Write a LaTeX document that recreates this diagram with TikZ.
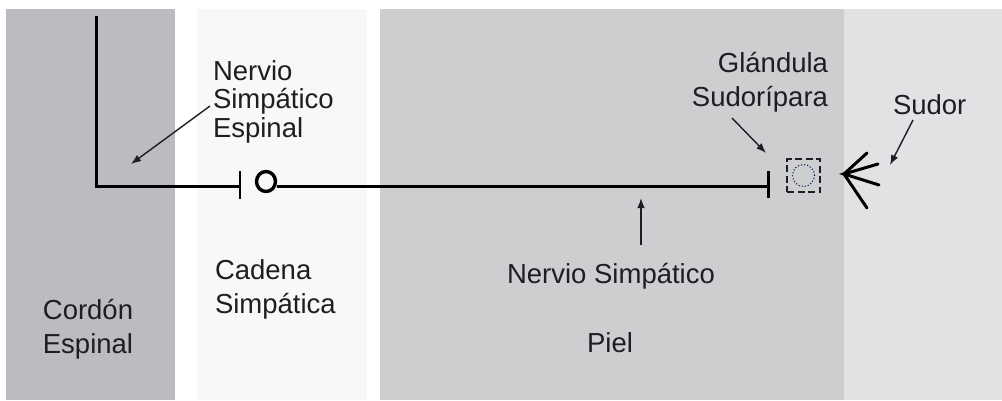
\documentclass[tikz,border=0pt]{standalone}
\usepackage{fontspec}
\setmainfont{Liberation Sans}
\usetikzlibrary{arrows.meta,shapes.geometric}
\definecolor{bandA}{HTML}{BBBCC0}
\definecolor{bandB}{HTML}{F8F8F8}
\definecolor{bandC}{HTML}{CDCED0}
\definecolor{bandD}{HTML}{E1E2E4}
\definecolor{ink}{HTML}{1E1E22}
\begin{document}
\begin{tikzpicture}[x=1pt,y=-1pt,
  lbl/.style={inner sep=0pt, outer sep=0pt, text=ink, font=\fontsize{27.5}{33.3}\selectfont},
  nerve/.style={line width=3pt, draw=black},
  tickmark/.style={line width=2.2pt, draw=black},
  pointer/.style={line width=1.4pt, draw=ink, -{Latex[length=10pt,width=7.5pt]}},
  spray/.style={line width=3pt, draw=black, line cap=round}]
\useasboundingbox (0,0) rectangle (1002,400);
% bands
\fill[white] (0,0) rectangle (1002,400);
\fill[bandA] (6,9) rectangle (175,400);
\fill[bandB] (197,9) rectangle (367,400);
\fill[bandC] (380,9) rectangle (844,400);
\fill[bandD] (844,9) rectangle (1002,400);
% labels (base anchor = baseline of the last line)
\node[lbl, align=left, anchor=base west, font=\fontsize{27.5}{28.5}\selectfont] (nse) at (213,137) {Nervio\\Simpático\\Espinal};
\node[lbl, align=center, anchor=base] (cord) at (88,353) {Cordón\\Espinal};
\node[lbl, align=left, anchor=base west] (cad) at (215,313) {Cadena\\Simpática};
\node[lbl, anchor=base] (ns) at (611,283) {Nervio Simpático};
\node[lbl, anchor=base] (piel) at (610,352) {Piel};
\node[lbl, align=right, anchor=base east] (glab) at (828,106) {Glándula\\Sudorípara};
\node[lbl, anchor=base west] (sudor) at (893,114) {Sudor};
% nerve path
\coordinate (top) at (96,16);
\coordinate (corner) at (96,186);
\coordinate (t1) at (240,186);
\coordinate (t2) at (768.5,186);
\node[ellipse, draw=black, line width=3.4pt, minimum width=19pt, minimum height=20pt, inner sep=0pt] (gang) at (266,181.5) {};
\draw[nerve] (top) -- (corner) -- (t1);
\draw[nerve] (gang.east |- t1) -- (t2);
\draw[tickmark] ([yshift=15pt]t1) -- ([yshift=-13pt]t1);
\draw[tickmark] ([yshift=15pt]t2) -- ([yshift=-12pt]t2);
% gland
\node[draw=ink, line width=1.4pt, dash pattern=on 7pt off 3.5pt, minimum size=33pt, inner sep=0pt] (gland) at (803.5,175.5) {};
\node[circle, draw=ink!70!blue, line width=1.1pt, dotted, minimum size=22pt, inner sep=0pt] (core) at (gland.center) {};
% sweat
\coordinate (sw) at (844,174);
\coordinate (s1) at (867,153);
\coordinate (s2) at (878,164);
\coordinate (s3) at (879,185);
\coordinate (s4) at (867,208);
\draw[spray] (s1) -- (sw) -- (s4);
\draw[spray] (s2) -- (sw) -- (s3);
% pointers
\coordinate (a1s) at (210,106);
\coordinate (a1e) at (131,164);
\draw[pointer] (a1s) -- (a1e);
\coordinate (a2s) at (732,118);
\coordinate (a2e) at (766,153);
\draw[pointer] (a2s) -- (a2e);
\coordinate (a3s) at (913,120);
\coordinate (a3e) at (890,165);
\draw[pointer] (a3s) -- (a3e);
\coordinate (a4s) at (641,245);
\coordinate (a4e) at (641,198);
\draw[pointer] (a4s) -- (a4e);
\end{tikzpicture}
\end{document}
